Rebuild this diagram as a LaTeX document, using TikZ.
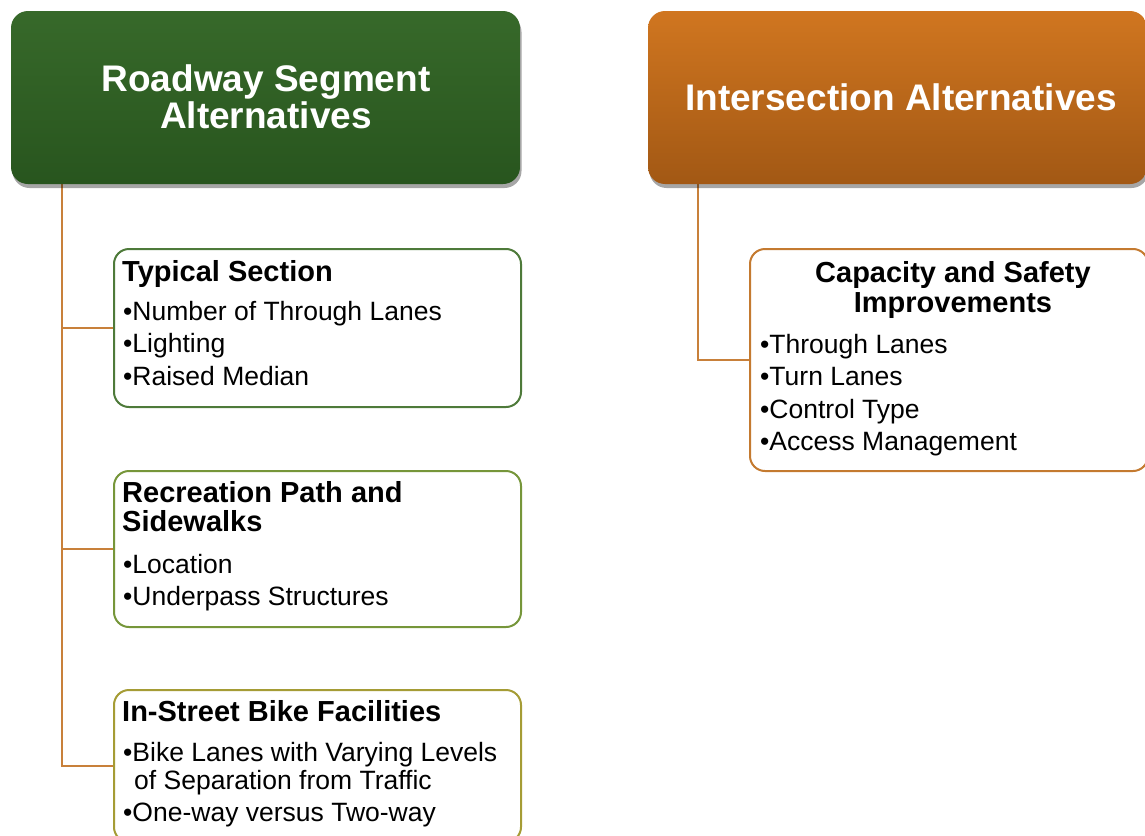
\documentclass[tikz,border=0pt]{standalone}
\usepackage{fontspec}
\setmainfont{Liberation Sans}
\usetikzlibrary{shadows,calc}
\definecolor{gTop}{HTML}{37692A}
\definecolor{gBot}{HTML}{28551E}
\definecolor{oTop}{HTML}{D07620}
\definecolor{oBot}{HTML}{A25814}
\definecolor{conncol}{HTML}{C8803A}
\definecolor{b1col}{HTML}{4E7A3A}
\definecolor{b2col}{HTML}{76963A}
\definecolor{b3col}{HTML}{A59C35}
\definecolor{b4col}{HTML}{C47A30}
\tikzset{
  hdr/.style={rounded corners=17pt, drop shadow={shadow xshift=1.5pt, shadow yshift=-4pt, opacity=0.35, fill=black}},
  hdrtext/.style={text=white, font=\fontsize{37}{37}\selectfont\bfseries, align=center, inner sep=0pt},
  itembox/.style={draw, line width=2pt, rounded corners=15pt, fill=white},
  conn/.style={draw=conncol, line width=2pt},
  headtext/.style={font=\fontsize{29}{30}\selectfont\bfseries, inner sep=0pt, anchor=base west},
  headc/.style={font=\fontsize{29}{30}\selectfont\bfseries, inner sep=0pt, anchor=base},
  bodytext/.style={font=\fontsize{26.5}{28}\selectfont, inner sep=0pt, anchor=base west},
}
\begin{document}
\begin{tikzpicture}[x=1pt,y=-1pt]
\useasboundingbox (0,0) rectangle (1145,835);
\clip (0,0) rectangle (1145,835);
% connectors (beneath)
\coordinate (tL) at (62,184);
\coordinate (tR) at (698,184);
\node[itembox, draw=b1col, minimum width=407pt, minimum height=158pt, anchor=north west] (box1) at (113,248) {};
\node[itembox, draw=b2col, minimum width=407pt, minimum height=156pt, anchor=north west] (box2) at (113,470) {};
\node[itembox, draw=b3col, minimum width=407pt, minimum height=152pt, anchor=north west] (box3) at (113,689) {};
\node[itembox, draw=b4col, minimum width=398pt, minimum height=222pt, anchor=north west] (box4) at (749,248) {};
\draw[conn] (tL) |- (box1.west);
\draw[conn] (tL) |- (box2.west);
\draw[conn] (tL) |- (box3.west);
\draw[conn] (tR) |- (box4.west);
% headers
\path[hdr, top color=gTop, bottom color=gBot] (11,11) rectangle (520,184);
\path[hdr, top color=oTop, bottom color=oBot] (648,11) rectangle (1147,184);
\node[hdrtext] (hL) at (266,97) {Roadway Segment\\Alternatives};
\node[hdrtext] (hR) at (901,97) {Intersection Alternatives};
% box 1
\node[headtext] (h1) at (122,281) {Typical Section};
\node[bodytext] (b1a) at (123,320) {•Number of Through Lanes};
\node[bodytext] (b1b) at (123,352.5) {•Lighting};
\node[bodytext] (b1c) at (123,385) {•Raised Median};
% box 2
\node[headtext] (h2a) at (122,502) {Recreation Path and};
\node[headtext] (h2b) at (122,531) {Sidewalks};
\node[bodytext] (b2a) at (123,573) {•Location};
\node[bodytext] (b2b) at (123,605.5) {•Underpass Structures};
% box 3
\node[headtext] (h3) at (122,721) {In-Street Bike Facilities};
\node[bodytext] (b3a) at (123,761) {•Bike Lanes with Varying Levels};
\node[bodytext] (b3b) at (134,789) {of Separation from Traffic};
\node[bodytext] (b3c) at (123,821.5) {•One-way versus Two-way};
% box 4
\node[headc] (h4a) at (953,282) {Capacity and Safety};
\node[headc] (h4b) at (953,312) {Improvements};
\node[bodytext] (b4a) at (760,353) {•Through Lanes};
\node[bodytext] (b4b) at (760,385.5) {•Turn Lanes};
\node[bodytext] (b4c) at (760,418) {•Control Type};
\node[bodytext] (b4d) at (760,450.5) {•Access Management};
\end{tikzpicture}
\end{document}
